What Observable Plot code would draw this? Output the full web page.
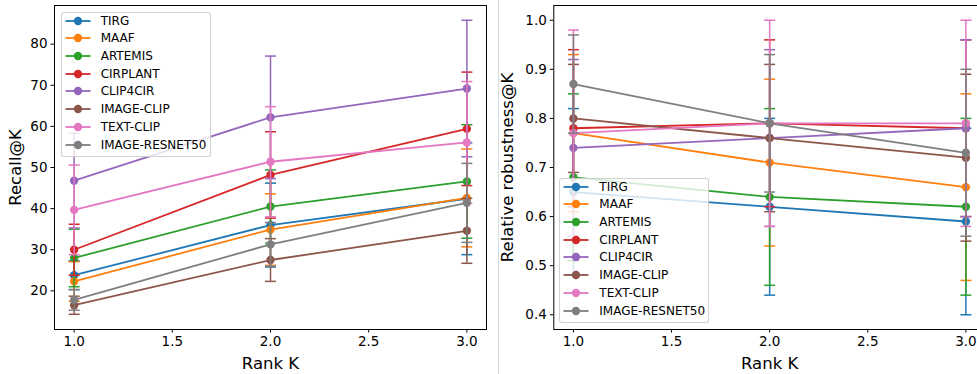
<!DOCTYPE html>
<html>
<head>
<meta charset="utf-8">
<script src="https://cdn.jsdelivr.net/npm/d3@7"></script>
<script src="https://cdn.jsdelivr.net/npm/@observablehq/plot@0.6"></script>
<style>
  body { margin: 0; background: white; }
  #wrap { position: relative; width: 977px; height: 374px; overflow: hidden; background: white; font-family: "DejaVu Sans", sans-serif; }
  .panel { position: absolute; top: 0; }
  .legend { position: absolute; background: rgba(255,255,255,0.8); border: 1px solid rgba(204,204,204,0.9); border-radius: 3px; box-sizing: border-box; }
  .legend .row { position: absolute; left: 0; height: 18px; display: flex; align-items: center; }
  .legend .row span { position: absolute; left: 39px; font-size: 12px; color: #000; white-space: nowrap; line-height: 18px; }
  #divider { position: absolute; left: 498px; top: 0; width: 1px; height: 374px; background: #d5dce3; }
</style>
</head>
<body>
<div id="wrap"></div>
<script>
// ---- data ----
const methods = ["TIRG", "MAAF", "ARTEMIS", "CIRPLANT", "CLIP4CIR", "IMAGE-CLIP", "TEXT-CLIP", "IMAGE-RESNET50"];
const colors = ["#1f77b4", "#ff7f0e", "#2ca02c", "#d62728", "#9467bd", "#8c564b", "#e377c2", "#7f7f7f"];
const rankK = [1, 2, 3];

// Recall@K (mean, error) per method, at K = 1, 2, 3
const recallMean = [
  [23.8, 36.0, 42.4],
  [22.3, 34.9, 42.6],
  [28.0, 40.5, 46.6],
  [30.0, 48.2, 59.4],
  [46.8, 62.2, 69.2],
  [16.5, 27.5, 34.6],
  [39.7, 51.4, 56.1],
  [17.8, 31.3, 41.4]
];
const recallErr = [
  [3.5, 10.2, 13.6],
  [4.8, 8.7, 11.9],
  [7.0, 8.9, 13.8],
  [6.2, 10.5, 13.8],
  [11.5, 14.9, 16.6],
  [2.2, 5.2, 7.9],
  [10.9, 13.4, 14.8],
  [2.5, 5.3, 9.6]
];

// Relative robustness@K (mean, error)
const robustMean = [
  [0.65, 0.62, 0.59],
  [0.77, 0.71, 0.66],
  [0.68, 0.64, 0.62],
  [0.78, 0.79, 0.78],
  [0.74, 0.76, 0.78],
  [0.80, 0.76, 0.72],
  [0.77, 0.79, 0.79],
  [0.87, 0.79, 0.73]
];
const robustErr = [
  [0.17, 0.18, 0.19],
  [0.16, 0.17, 0.19],
  [0.17, 0.18, 0.18],
  [0.16, 0.17, 0.18],
  [0.18, 0.18, 0.18],
  [0.11, 0.15, 0.17],
  [0.21, 0.21, 0.21],
  [0.10, 0.14, 0.17]
];

const xTicks = [1.0, 1.5, 2.0, 2.5, 3.0];
const recallTicks = [20, 30, 40, 50, 60, 70, 80];
const robustTicks = [0.4, 0.5, 0.6, 0.7, 0.8, 0.9, 1.0];

// ---- helpers ----
const capSymbol = { draw(ctx) { ctx.moveTo(-5.5, 0); ctx.lineTo(5.5, 0); } };

function seriesRows(means, errs) {
  return methods.map((m, i) => rankK.map((k, j) => ({
    method: m, k, v: means[i][j], lo: means[i][j] - errs[i][j], hi: means[i][j] + errs[i][j]
  })));
}

function seriesMarks(rows) {
  const marks = [];
  rows.forEach((r, i) => {
    const c = colors[i];
    marks.push(Plot.ruleX(r, { x: "k", y1: "lo", y2: "hi", stroke: c, strokeWidth: 1.5 }));
    marks.push(Plot.dot(r, { x: "k", y: "hi", symbol: capSymbol, stroke: c, strokeWidth: 1.5, fill: "none", r: 3 }));
    marks.push(Plot.dot(r, { x: "k", y: "lo", symbol: capSymbol, stroke: c, strokeWidth: 1.5, fill: "none", r: 3 }));
    marks.push(Plot.line(r, { x: "k", y: "v", stroke: c, strokeWidth: 1.8 }));
    marks.push(Plot.dot(r, { x: "k", y: "v", fill: c, r: 4.2 }));
  });
  return marks;
}

function makePanel(opts) {
  const chart = Plot.plot({
    width: opts.width,
    height: 374,
    marginLeft: opts.ml,
    marginRight: opts.mr,
    marginTop: 5,
    marginBottom: 45,
    style: { fontFamily: "DejaVu Sans", fontSize: "13.5px", background: "white", color: "black" },
    x: { domain: [0.9, 3.1] },
    y: { domain: opts.yDomain },
    marks: [
      ...seriesMarks(opts.rows),
      Plot.frame({ stroke: "black", strokeWidth: 1 }),
      Plot.axisX({ ticks: xTicks, tickFormat: d3.format(".1f"), tickSize: 3.5, tickPadding: 3.5, label: null }),
      Plot.axisY({ ticks: opts.yTicks, tickFormat: opts.yFormat, tickSize: 3.5, tickPadding: 3.5, label: null }),
      Plot.text(["Rank K"], { frameAnchor: "bottom", text: d => d, dy: 34, fontSize: 16.5, textAnchor: "middle", lineAnchor: "middle" }),
      Plot.text([opts.yLabel], { frameAnchor: "left", text: d => d, rotate: -90, dx: opts.yLabelDx, fontSize: 16.5, textAnchor: "middle", lineAnchor: "middle" })
    ]
  });
  return chart;
}

function makeLegend(left, top, width, height) {
  const box = document.createElement("div");
  box.className = "legend";
  Object.assign(box.style, { left: left + "px", top: top + "px", width: width + "px", height: height + "px" });
  methods.forEach((m, i) => {
    const row = document.createElement("div");
    row.className = "row";
    row.style.top = (9 + i * 17.7 - 9 - 1) + "px";
    row.style.width = (width - 2) + "px";
    const sw = document.createElementNS("http://www.w3.org/2000/svg", "svg");
    sw.setAttribute("width", "34"); sw.setAttribute("height", "18");
    sw.style.position = "absolute"; sw.style.left = "0px"; sw.style.top = "0px";
    sw.innerHTML = `<line x1="3.5" x2="28.5" y1="9" y2="9" stroke="${colors[i]}" stroke-width="1.8"/>` +
                   `<circle cx="16" cy="9" r="4.2" fill="${colors[i]}"/>`;
    const t = document.createElement("span");
    t.textContent = m;
    row.appendChild(sw);
    row.appendChild(t);
    box.appendChild(row);
  });
  return box;
}

const wrap = document.getElementById("wrap");

const left = makePanel({
  width: 490, ml: 54, mr: 4,
  yDomain: [10.6, 89.4], yTicks: recallTicks, yFormat: d3.format("d"),
  yLabel: "Recall@K", yLabelDx: -38.5,
  rows: seriesRows(recallMean, recallErr)
});
left.classList.add("panel");
left.style.left = "0px";
wrap.appendChild(left);

const right = makePanel({
  width: 500, ml: 63.3, mr: 5,
  yDomain: [0.37, 1.03], yTicks: robustTicks, yFormat: d3.format(".1f"),
  yLabel: "Relative robustness@K", yLabelDx: -46.5,
  rows: seriesRows(robustMean, robustErr)
});
right.classList.add("panel");
right.style.left = "490px";
wrap.appendChild(right);

wrap.appendChild(makeLegend(60.7, 11.7, 150, 145));
wrap.appendChild(makeLegend(559.3, 177.7, 150, 145));

const div = document.createElement("div");
div.id = "divider";
wrap.appendChild(div);
</script>
</body>
</html>
